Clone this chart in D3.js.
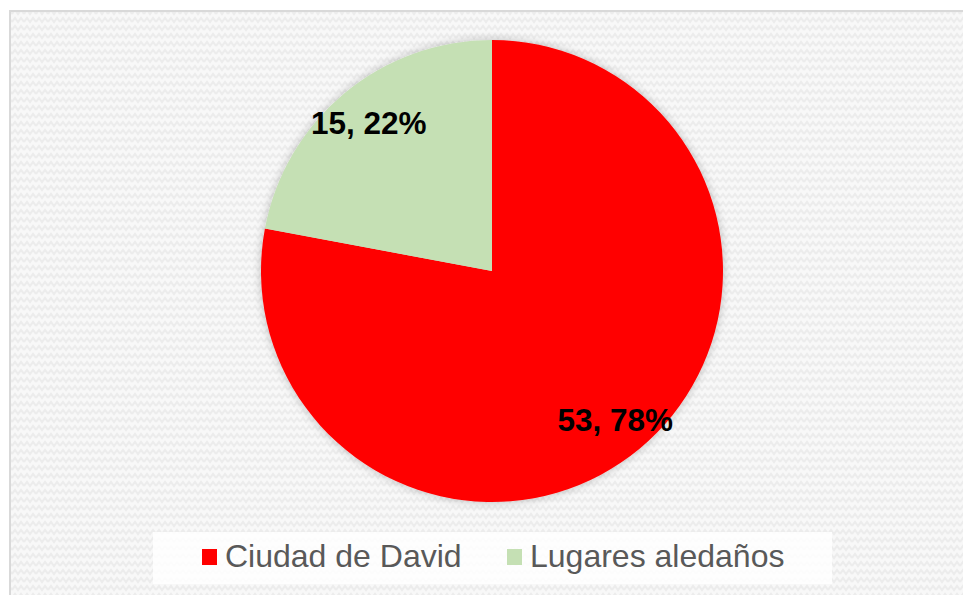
<!DOCTYPE html>
<html>
<head>
<meta charset="utf-8">
<script src="https://cdn.jsdelivr.net/npm/d3@7"></script>
<style>
  html, body { margin: 0; padding: 0; background: #ffffff; }
  svg { display: block; }
</style>
</head>
<body>
<svg id="chart" width="963" height="595"></svg>
<script>
// Data
const categories = ["Ciudad de David", "Lugares aledaños"];
const values = [53, 15];
const percentLabels = ["78%", "22%"];
const colors = ["#ff0000", "#c5e0b4"];

const svg = d3.select("#chart");
const W = 963, H = 595;

const defs = svg.append("defs");
// zigzag background pattern
const pat = defs.append("pattern")
  .attr("id", "zig")
  .attr("patternUnits", "userSpaceOnUse")
  .attr("width", 12).attr("height", 8);
pat.append("rect").attr("width", 12).attr("height", 8).attr("fill", "#f8f8f8");
pat.append("path")
  .attr("d", "M0,6 L3,2 L6,6 L9,2 L12,6")
  .attr("fill", "none").attr("stroke", "#ececec").attr("stroke-width", 2);

const filt = defs.append("filter").attr("id", "shadow")
  .attr("x", "-20%").attr("y", "-20%").attr("width", "140%").attr("height", "140%");
filt.append("feGaussianBlur").attr("in", "SourceAlpha").attr("stdDeviation", 5).attr("result", "b");
filt.append("feOffset").attr("in", "b").attr("dx", 0).attr("dy", 0).attr("result", "o");
filt.append("feComponentTransfer").attr("in", "o").attr("result", "s")
  .append("feFuncA").attr("type", "linear").attr("slope", 0.25);
const fm = filt.append("feMerge");
fm.append("feMergeNode").attr("in", "s");
fm.append("feMergeNode").attr("in", "SourceGraphic");

// chart area
svg.append("rect")
  .attr("x", 10).attr("y", 11)
  .attr("width", W + 20).attr("height", H + 20)
  .attr("fill", "url(#zig)")
  .attr("stroke", "#d9d9d9").attr("stroke-width", 2);

// pie
const cx = 492, cy = 271, R = 231;
const pie = d3.pie().sort(null).value(d => d)(values);
const arc = d3.arc().innerRadius(0).outerRadius(R);
const labelArc = d3.arc().innerRadius(R * 0.835).outerRadius(R * 0.835);

const g = svg.append("g").attr("transform", `translate(${cx},${cy})`);
g.append("g").attr("filter", "url(#shadow)")
  .selectAll("path").data(pie).join("path")
  .attr("d", arc)
  .attr("fill", (d, i) => colors[i]);

g.selectAll("text.lbl").data(pie).join("text")
  .attr("class", "lbl")
  .attr("transform", d => `translate(${labelArc.centroid(d)})`)
  .attr("text-anchor", "middle")
  .attr("dy", "0.36em")
  .attr("font-family", "Liberation Sans, Arial, sans-serif")
  .attr("font-weight", "bold")
  .attr("font-size", 31.5)
  .attr("fill", "#000")
  .text((d, i) => `${values[i]}, ${percentLabels[i]}`);

// legend
svg.append("rect")
  .attr("x", 153).attr("y", 532).attr("width", 679).attr("height", 52)
  .attr("fill", "#ffffff").attr("fill-opacity", 0.85);

const legendX = [202, 507];
const lg = svg.append("g");
const items = lg.selectAll("g").data(categories).join("g")
  .attr("transform", (d, i) => `translate(${legendX[i]},549)`);
items.append("rect")
  .attr("width", 15).attr("height", 16)
  .attr("fill", (d, i) => colors[i]);
items.append("text")
  .attr("x", 23).attr("y", 17.5)
  .attr("font-family", "Liberation Sans, Arial, sans-serif")
  .attr("font-size", 32)
  .attr("fill", "#595959")
  .text(d => d);
</script>
</body>
</html>
